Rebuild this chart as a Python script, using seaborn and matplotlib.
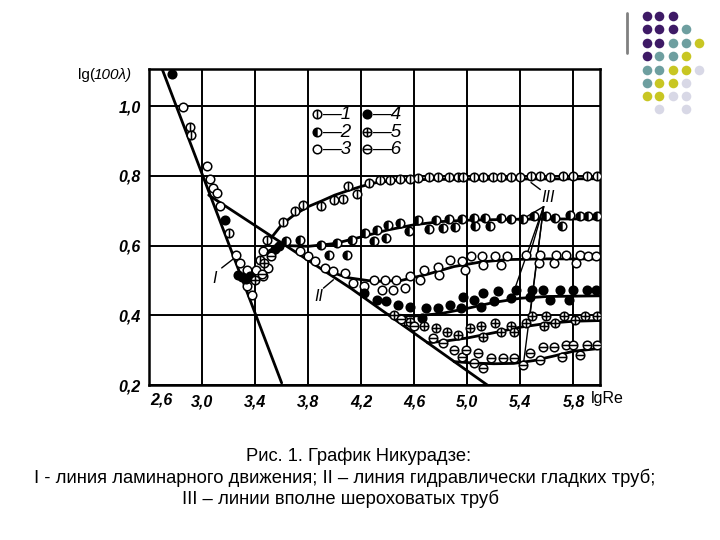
import numpy as np
import pandas as pd
import matplotlib
matplotlib.use("Agg")
import matplotlib.pyplot as plt
from matplotlib.path import Path
import seaborn as sns

# ---------------- data ----------------
xtick_vals = [3.0, 3.4, 3.8, 4.2, 4.6, 5.0, 5.4, 5.8]
xtick_labels = ["3,0", "3,4", "3,8", "4,2", "4,6", "5,0", "5,4", "5,8"]
ytick_vals = [0.2, 0.4, 0.6, 0.8, 1.0]
ytick_labels = ["0,2", "0,4", "0,6", "0,8", "1,0"]

# line I (laminar) and line II (smooth pipes)
lineI_lgRe = [2.60, 3.60]
lineI_val = [1.206, 0.206]
lineII_lgRe = [3.05, 4.12, 5.15]
lineII_val = [0.745, 0.478, 0.200]

# lines III (rough pipes), one per series
c1_lgRe = [3.50, 3.60, 3.70, 3.80, 3.90, 4.00, 4.10, 4.20, 4.30, 4.45, 4.70, 5.20, 6.00]
c1_val = [0.612, 0.660, 0.690, 0.712, 0.728, 0.745, 0.758, 0.770, 0.780, 0.787, 0.790, 0.791, 0.792]
c2_lgRe = [3.64, 3.80, 4.00, 4.20, 4.40, 4.60, 4.80, 5.00, 5.40, 6.00]
c2_val = [0.600, 0.598, 0.606, 0.625, 0.645, 0.660, 0.669, 0.673, 0.676, 0.677]
c3_lgRe = [3.90, 4.10, 4.30, 4.50, 4.70, 4.90, 5.10, 5.30, 5.60, 6.00]
c3_val = [0.533, 0.508, 0.497, 0.500, 0.518, 0.540, 0.553, 0.560, 0.562, 0.562]
c4_lgRe = [4.40, 4.60, 4.80, 5.00, 5.20, 5.40, 5.60, 6.00]
c4_val = [0.402, 0.398, 0.405, 0.420, 0.437, 0.449, 0.454, 0.456]
c5_lgRe = [4.70, 4.85, 5.00, 5.20, 5.40, 5.60, 5.80, 6.00]
c5_val = [0.321, 0.327, 0.335, 0.350, 0.366, 0.377, 0.383, 0.385]
c6_lgRe = [4.90, 5.05, 5.20, 5.35, 5.50, 5.65, 5.80, 6.00]
c6_val = [0.267, 0.263, 0.261, 0.262, 0.270, 0.283, 0.297, 0.305]

# measured points, series 1..6
s1_lgRe = [2.91, 2.92, 3.20, 3.49, 3.44, 3.61, 3.70, 3.76, 3.895, 3.997, 4.065, 4.10, 4.17,
           4.26, 4.34, 4.42, 4.49, 4.57, 4.63, 4.71, 4.78, 4.86, 4.93, 4.97, 5.05, 5.12,
           5.19, 5.25, 5.33, 5.40, 5.48, 5.55, 5.62, 5.72, 5.80, 5.90, 5.98]
s1_val = [0.940, 0.917, 0.637, 0.617, 0.560, 0.668, 0.698, 0.718, 0.713, 0.730, 0.734, 0.771, 0.749,
          0.780, 0.788, 0.788, 0.790, 0.792, 0.795, 0.798, 0.796, 0.796, 0.797, 0.798, 0.796, 0.797,
          0.796, 0.797, 0.798, 0.797, 0.799, 0.800, 0.798, 0.800, 0.800, 0.800, 0.800]
s2_lgRe = [3.63, 3.74, 3.90, 3.96, 4.02, 4.09, 4.13, 4.23, 4.30, 4.32, 4.39, 4.40, 4.49, 4.56,
           4.63, 4.71, 4.76, 4.82, 4.86, 4.91, 4.96, 5.05, 5.06, 5.13, 5.17, 5.25, 5.33, 5.42,
           5.50, 5.59, 5.66, 5.71, 5.775, 5.85, 5.91, 5.98]
s2_val = [0.612, 0.617, 0.603, 0.574, 0.608, 0.574, 0.617, 0.635, 0.612, 0.644, 0.622, 0.658,
          0.665, 0.641, 0.673, 0.648, 0.675, 0.651, 0.677, 0.654, 0.677, 0.680, 0.656, 0.680,
          0.657, 0.680, 0.677, 0.677, 0.684, 0.684, 0.680, 0.656, 0.689, 0.684, 0.684, 0.684]
s3_lgRe = [2.86, 3.035, 3.06, 3.085, 3.11, 3.135, 3.256, 3.286, 3.337, 3.337, 3.374, 3.41, 3.46,
           3.50, 3.46, 3.74, 3.80, 3.85, 3.93, 3.99, 4.08, 4.14, 4.22, 4.30, 4.355, 4.38, 4.44,
           4.46, 4.53, 4.57, 4.64, 4.67, 4.78, 4.79, 4.87, 4.96, 4.98, 5.03, 5.11, 5.12, 5.21,
           5.25, 5.30, 5.44, 5.54, 5.55, 5.65, 5.67, 5.74, 5.82, 5.85, 5.91, 5.97]
s3_val = [0.998, 0.828, 0.790, 0.766, 0.752, 0.713, 0.574, 0.550, 0.531, 0.483, 0.459, 0.531, 0.584,
          0.536, 0.512, 0.584, 0.569, 0.555, 0.536, 0.526, 0.521, 0.493, 0.483, 0.502, 0.473, 0.502,
          0.473, 0.502, 0.478, 0.512, 0.502, 0.531, 0.540, 0.517, 0.560, 0.555, 0.531, 0.569, 0.569,
          0.545, 0.569, 0.545, 0.569, 0.574, 0.550, 0.574, 0.550, 0.574, 0.574, 0.550, 0.574, 0.569,
          0.569]
s4_lgRe = [2.77, 3.173, 3.27, 3.30, 3.33, 3.36, 3.52, 3.55, 3.58, 4.22, 4.32, 4.39, 4.48, 4.57,
           4.66, 4.69, 4.78, 4.87, 4.95, 4.97, 5.05, 5.10, 5.12, 5.20, 5.23, 5.33, 5.37, 5.47,
           5.49, 5.57, 5.62, 5.70, 5.77, 5.80, 5.90, 5.97]
s4_val = [1.092, 0.675, 0.515, 0.510, 0.505, 0.512, 0.580, 0.590, 0.600, 0.464, 0.445, 0.440,
          0.430, 0.425, 0.392, 0.420, 0.420, 0.430, 0.420, 0.454, 0.445, 0.425, 0.464, 0.440,
          0.469, 0.450, 0.473, 0.454, 0.473, 0.473, 0.445, 0.473, 0.445, 0.473, 0.473, 0.473]
s5_lgRe = [3.40, 3.47, 4.45, 4.52, 4.57, 4.67, 4.76, 4.85, 4.93, 5.02, 5.10, 5.12, 5.21, 5.25,
           5.33, 5.35, 5.44, 5.49, 5.58, 5.59, 5.66, 5.73, 5.81, 5.89, 5.98]
s5_val = [0.500, 0.550, 0.400, 0.385, 0.382, 0.368, 0.363, 0.353, 0.344, 0.363, 0.368, 0.339,
          0.378, 0.353, 0.368, 0.353, 0.378, 0.397, 0.368, 0.397, 0.378, 0.397, 0.387, 0.397, 0.397]
s6_lgRe = [3.45, 3.52, 4.50, 4.60, 4.74, 4.82, 4.90, 4.96, 4.99, 5.05, 5.08, 5.12, 5.18, 5.27,
           5.35, 5.42, 5.47, 5.55, 5.57, 5.65, 5.71, 5.74, 5.80, 5.85, 5.90, 5.98]
s6_val = [0.520, 0.570, 0.390, 0.370, 0.334, 0.320, 0.300, 0.281, 0.300, 0.262, 0.291, 0.248,
          0.277, 0.277, 0.277, 0.258, 0.291, 0.272, 0.310, 0.310, 0.281, 0.315, 0.315, 0.286,
          0.315, 0.315]

legend_labels = ["1", "2", "3", "4", "5", "6"]
caption = ["Рис. 1. График Никурадзе:",
           "I - линия ламинарного движения; II – линия гидравлически гладких труб;",
           "III – линии вполне шероховатых труб"]

# ---------------- style ----------------
sns.set_theme(style="white")
plt.rcParams['font.family'] = ['Liberation Sans', 'DejaVu Sans']
plt.rcParams['text.color'] = 'black'
plt.rcParams['xtick.color'] = 'black'
plt.rcParams['ytick.color'] = 'black'
plt.rcParams['axes.labelcolor'] = 'black'

fig = plt.figure(figsize=(7.2, 5.4), dpi=100)
fig.patch.set_facecolor("white")
ax = fig.add_axes([149 / 720, 155 / 540, 451 / 720, 316 / 540])
ax.set_facecolor("white")


def circ_with(segs):
    c = Path.unit_circle()
    verts = [tuple(v) for v in c.vertices]
    codes = list(c.codes)
    for a, b in segs:
        verts += [a, b]
        codes += [Path.MOVETO, Path.LINETO]
    return Path(verts, codes)


m_vbar = circ_with([((0, -1), (0, 1))])
m_plus = circ_with([((0, -1), (0, 1)), ((-1, 0), (1, 0))])
m_minus = circ_with([((-0.9, 0), (0.9, 0))])
arc = Path.arc(90, 270)
m_half = Path(np.vstack([arc.vertices, [[0, 1]]]), list(arc.codes) + [Path.CLOSEPOLY])

MS = 38
LW = 1.1

# ---------------- lines ----------------
line_sets = [(lineI_lgRe, lineI_val), (lineII_lgRe, lineII_val),
             (c1_lgRe, c1_val), (c2_lgRe, c2_val), (c3_lgRe, c3_val),
             (c4_lgRe, c4_val), (c5_lgRe, c5_val), (c6_lgRe, c6_val)]
for xs, ys in line_sets:
    df = pd.DataFrame({"lgRe": xs, "val": ys})
    sns.lineplot(data=df, x="lgRe", y="val", ax=ax, color="black", lw=2.0,
                 sort=False, estimator=None, zorder=3)


# ---------------- points ----------------
def pts(xs, ys, marker, fc, lw=LW, ec="black"):
    df = pd.DataFrame({"lgRe": xs, "val": ys})
    sns.scatterplot(data=df, x="lgRe", y="val", ax=ax, marker=marker, s=MS,
                    facecolor=fc, edgecolor=ec, linewidth=lw, zorder=4)


pts(s1_lgRe, s1_val, m_vbar, "white")
pts(s2_lgRe, s2_val, "o", "white")
pts(s2_lgRe, s2_val, m_half, "black", lw=0.3)
pts(s3_lgRe, s3_val, "o", "white")
pts(s4_lgRe, s4_val, "o", "black")
pts(s5_lgRe, s5_val, m_plus, "white")
pts(s6_lgRe, s6_val, m_minus, "white")

# ---------------- axes ----------------
ax.set_xlim(2.6, 6.0)
ax.set_ylim(0.2, 1.107)
ax.set_xticks(xtick_vals)
ax.set_xticklabels(xtick_labels)
ax.set_yticks(ytick_vals)
ax.set_yticklabels(ytick_labels)
ax.set_xlabel("")
ax.set_ylabel("")
ax.grid(True, color="black", lw=1.4)
ax.set_axisbelow(True)
for sp in ax.spines.values():
    sp.set_visible(True)
    sp.set_color("black")
    sp.set_linewidth(1.8)
ax.tick_params(axis="x", length=0, pad=7)
ax.tick_params(axis="y", length=0, pad=6)
for t in ax.get_xticklabels() + ax.get_yticklabels():
    t.set_fontsize(11.5)
    t.set_fontweight("bold")
    t.set_fontstyle("italic")
    t.set_color("black")

# ---------------- legend (hand drawn) ----------------
leg_rows = [0.977, 0.926, 0.876]
leg_cols = [3.863, 4.244]
leg_markers = [(m_vbar, "white"), ("o", "black"), ("o", "white"),
               ("o", "black"), (m_plus, "white"), (m_minus, "white")]
for i, lab in enumerate(legend_labels):
    col, row = divmod(i, 3)
    mx, my = leg_cols[col], leg_rows[row]
    mk, fc = leg_markers[i]
    if i == 1:
        ax.scatter([mx], [my], marker="o", s=MS, facecolor="white", edgecolor="black", lw=LW, zorder=6)
        ax.scatter([mx], [my], marker=m_half, s=MS, facecolor="black", edgecolor="black", lw=0.3, zorder=6)
    else:
        ax.scatter([mx], [my], marker=mk, s=MS, facecolor=fc, edgecolor="black", lw=LW, zorder=6)
    ax.text(mx + 0.04, my, "—" + lab, fontsize=13.5, fontstyle="italic", va="center",
            ha="left", color="black", zorder=6)

# ---------------- line labels ----------------
ax.text(3.098, 0.507, "I", fontsize=11.5, fontstyle="italic", ha="center", va="center")
ax.plot([3.148, 3.236], [0.536, 0.562], color="black", lw=1.0)
ax.text(3.877, 0.454, "II", fontsize=11.5, fontstyle="italic", ha="center", va="center")
ax.plot([3.915, 3.99], [0.478, 0.502], color="black", lw=1.0)
ax.text(5.61, 0.738, "III", fontsize=11.5, fontstyle="italic", ha="center", va="center")
ax.plot([5.48, 5.55], [0.781, 0.761], color="black", lw=1.0)
for ex, ey in [(5.41, 0.675), (5.46, 0.56), (5.35, 0.468), (5.47, 0.393), (5.42, 0.252)]:
    ax.plot([5.575, ex], [0.712, ey], color="black", lw=1.0)

# ---------------- overlay in pixel coordinates ----------------
ov = fig.add_axes([0, 0, 1, 1], zorder=10)
ov.set_xlim(0, 720)
ov.set_ylim(540, 0)
ov.axis("off")
ov.patch.set_alpha(0)

ov.text(161, 400, "2,6", fontsize=11.5, fontweight="bold", fontstyle="italic", ha="center", va="center")
ov.text(591, 399, "lgRe", fontsize=11.5, ha="left", va="center")
ov.text(78, 75, "lg(", fontsize=11, ha="left", va="center")
ov.text(94, 75, "100λ)", fontsize=11, fontstyle="italic", ha="left", va="center")

ov.text(359, 456, caption[0], fontsize=13.2, ha="center", va="center")
ov.text(345, 478, caption[1], fontsize=13.2, ha="center", va="center")
ov.text(340, 499, caption[2], fontsize=13.2, ha="center", va="center")

# decoration in the top right corner
P, T, Y, L = "#3E1A66", "#6E9FA0", "#C8C623", "#D8D8E6"
dot_rows = [[P, P, P, None, None],
            [P, P, P, T, None],
            [P, P, T, T, Y],
            [P, T, T, Y, None],
            [T, T, Y, Y, L],
            [T, Y, Y, L, None],
            [Y, Y, L, L, None],
            [None, L, None, L, None]]
col_x = [647, 659, 673, 686, 699]
row_y = [16, 29, 43, 56, 70, 83, 96, 109]
for r, row in enumerate(dot_rows):
    for c, colr in enumerate(row):
        if colr:
            ov.scatter([col_x[c]], [row_y[r]], s=48, color=colr, lw=0)
ov.plot([627, 627], [13, 53], color="#808080", lw=2)

fig.savefig("out.png", dpi=100, facecolor="white")
